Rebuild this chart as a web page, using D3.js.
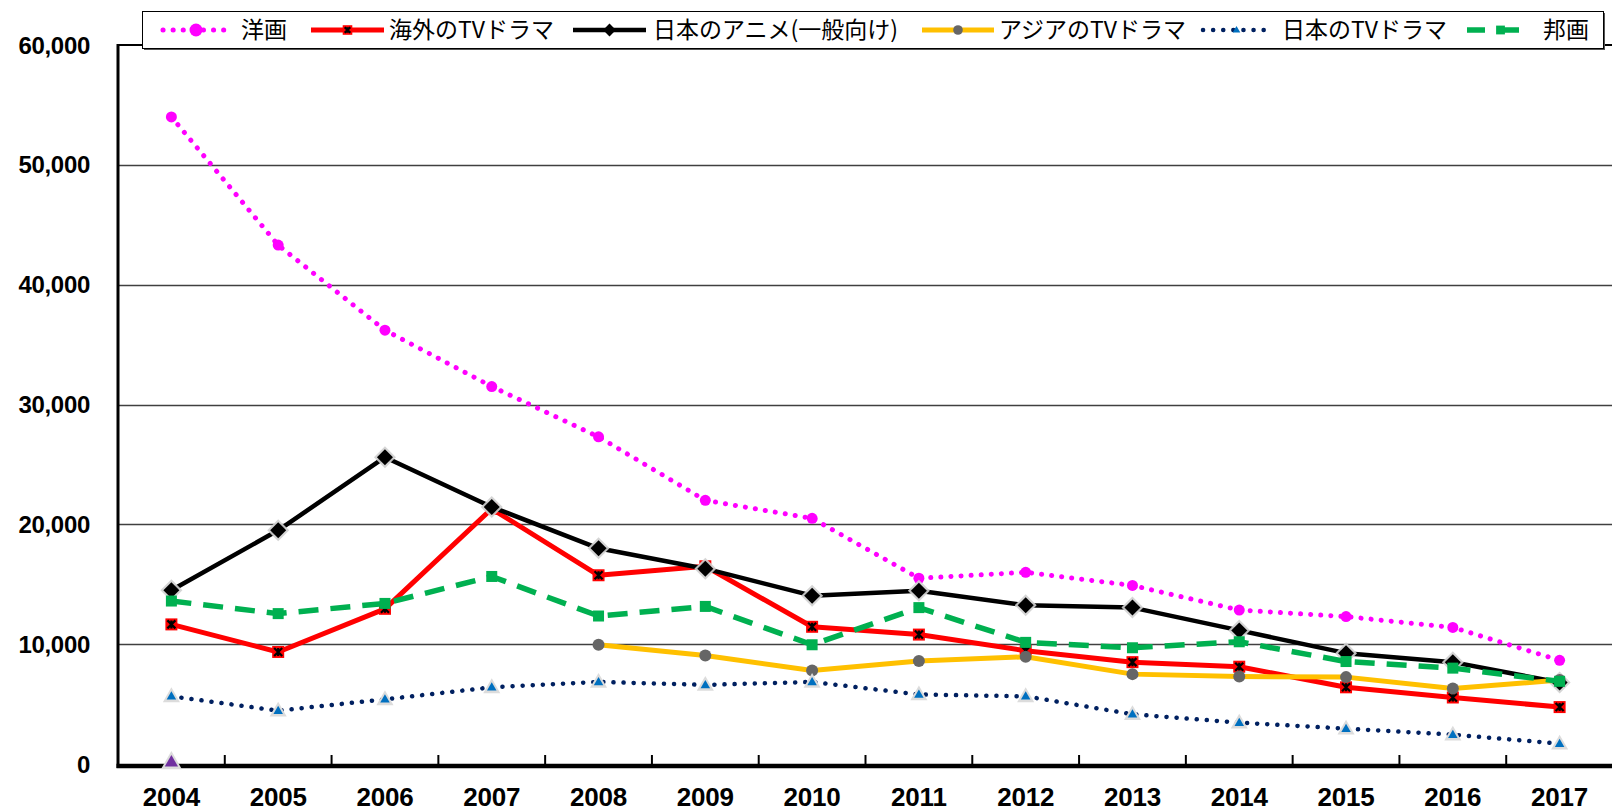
<!DOCTYPE html>
<html>
<head>
<meta charset="utf-8">
<script src="https://cdn.jsdelivr.net/npm/d3@7"></script>
<style>
  html, body { margin: 0; padding: 0; background: #fff; }
  svg { display: block; }
</style>
</head>
<body>
<div id="chart"></div>
<script>
// data
var years = ["2004","2005","2006","2007","2008","2009","2010","2011","2012","2013","2014","2015","2016","2017"];
var yTicks = [0, 10000, 20000, 30000, 40000, 50000, 60000];

var seriesNames = ["洋画", "海外のTVドラマ", "日本のアニメ(一般向け)", "アジアのTVドラマ", "日本のTVドラマ", "邦画"];

var yoga      = [54000, 43300, 36200, 31500, 27300, 22000, 20500, 15500, 16000, 14900, 12850, 12300, 11400, 8650];
var kaigaiTV  = [11650, 9350, 12950, 21300, 15750, 16500, 11450, 10800, 9450, 8500, 8120, 6400, 5550, 4750];
var anime     = [14500, 19500, 25600, 21450, 18000, 16300, 14050, 14450, 13250, 13050, 11150, 9250, 8500, 6800];
var asiaTV    = [null, null, null, null, 9950, 9050, 7800, 8600, 8950, 7500, 7300, 7250, 6300, 7000];
var nihonTV   = [5650, 4450, 5400, 6400, 6850, 6600, 6850, 5800, 5650, 4150, 3450, 2950, 2450, 1700];
var hoga      = [13600, 12550, 13400, 15650, 12350, 13150, 9950, 13050, 10150, 9700, 10200, 8550, 8000, 6900];
// stray marker sitting on the axis at 2004
var strayPoint = [0];

var width = 1612,
	height = 811;

// note: "top" is reserved on window, so use a margin object
var m = { left: 118, right: 1613, top: 45, bottom: 764 };

var svg = d3.select("#chart").append("svg")
	.attr("width", width)
	.attr("height", height);

var x = d3.scaleBand().domain(years).range([m.left, m.right]);
var y = d3.scaleLinear().domain([0, 60000]).range([m.bottom, m.top]);
var cx = function(i){ return x(years[i]) + x.bandwidth() / 2; };

// grid lines
svg.append("g").selectAll("line")
	.data(yTicks.filter(function(t){ return t > 0 && t < 60000; }))
	.enter().append("line")
	.attr("x1", m.left).attr("x2", width)
	.attr("y1", function(d){ return Math.round(y(d)) + 0.5; })
	.attr("y2", function(d){ return Math.round(y(d)) + 0.5; })
	.attr("stroke", "#404040")
	.attr("stroke-width", 1.3);

// top border of plot area
svg.append("line")
	.attr("x1", m.left).attr("x2", width)
	.attr("y1", y(60000)).attr("y2", y(60000))
	.attr("stroke", "#000").attr("stroke-width", 2);

// y axis labels
svg.append("g").selectAll("text")
	.data(yTicks)
	.enter().append("text")
	.attr("x", 90)
	.attr("y", function(d){ return y(d); })
	.attr("dy", "0.36em")
	.attr("text-anchor", "end")
	.attr("font-family", "'Liberation Sans', Arial, sans-serif")
	.attr("font-weight", "bold")
	.attr("font-size", 24)
	.attr("letter-spacing", -0.3)
	.text(function(d){ return d3.format(",")(d); });

// x axis labels
svg.append("g").selectAll("text")
	.data(years)
	.enter().append("text")
	.attr("x", function(d){ return x(d) + x.bandwidth() / 2; })
	.attr("y", 806)
	.attr("text-anchor", "middle")
	.attr("font-family", "'Liberation Sans', Arial, sans-serif")
	.attr("font-weight", "bold")
	.attr("font-size", 26)
	.attr("letter-spacing", -0.2)
	.text(function(d){ return d; });

// x tick marks (inside) at category boundaries
svg.append("g").selectAll("line")
	.data(years.slice(1))
	.enter().append("line")
	.attr("x1", function(d){ return x(d); })
	.attr("x2", function(d){ return x(d); })
	.attr("y1", m.bottom - 9).attr("y2", m.bottom)
	.attr("stroke", "#000").attr("stroke-width", 2);

// axes
svg.append("line")
	.attr("x1", m.left).attr("x2", m.left)
	.attr("y1", m.top - 1).attr("y2", m.bottom + 4)
	.attr("stroke", "#000").attr("stroke-width", 3);
svg.append("line")
	.attr("x1", m.left - 1.5).attr("x2", width)
	.attr("y1", m.bottom + 2).attr("y2", m.bottom + 2)
	.attr("stroke", "#000").attr("stroke-width", 4.5);

// line styles
var styles = [
	{ values: yoga, color: "#FF00FF", width: 5, dash: "0.1 10", cap: "round", marker: "circle" },
	{ values: kaigaiTV, color: "#FF0000", width: 5, dash: null, cap: "butt", marker: "xsquare" },
	{ values: anime, color: "#000000", width: 4.5, dash: null, cap: "butt", marker: "diamond" },
	{ values: asiaTV, color: "#FFC000", width: 5, dash: null, cap: "butt", marker: "grey" },
	{ values: nihonTV, color: "#002060", width: 4.5, dash: "0.1 10", cap: "round", marker: "triangle" },
	{ values: hoga, color: "#00B050", width: 5.5, dash: "20 12", cap: "butt", marker: "square" }
];

var lineGen = d3.line()
	.defined(function(d){ return d != null; })
	.x(function(d, i){ return cx(i); })
	.y(function(d){ return y(d); });

function drawMarker(g, type, px, py, small){
	var k = small ? 0.8 : 1;
	if (type == "circle"){
		g.append("circle").attr("cx", px).attr("cy", py).attr("r", 5.5 * k).attr("fill", "#FF00FF");
	}
	else if (type == "xsquare"){
		var s = 6 * k;
		g.append("rect").attr("x", px - s).attr("y", py - s).attr("width", 2 * s).attr("height", 2 * s)
			.attr("fill", "#FF0000");
		var a = s - 2;
		g.append("path")
			.attr("d", "M" + (px - a) + "," + (py - a) + "L" + (px + a) + "," + (py + a) +
				"M" + (px + a) + "," + (py - a) + "L" + (px - a) + "," + (py + a) +
				"M" + px + "," + (py - a) + "L" + px + "," + (py + a))
			.attr("stroke", "#000").attr("stroke-width", 2.2);
	}
	else if (type == "diamond"){
		var d = 8 * k;
		var dm = function(r){ return "M" + px + "," + (py - r) + "L" + (px + r) + "," + py + "L" + px + "," + (py + r) + "L" + (px - r) + "," + py + "Z"; };
		if (!small) g.append("path").attr("d", dm(d + 3)).attr("fill", "#d0d0d0").attr("opacity", 0.9);
		g.append("path").attr("d", dm(d)).attr("fill", "#000");
	}
	else if (type == "grey"){
		g.append("circle").attr("cx", px).attr("cy", py).attr("r", 6 * k).attr("fill", "#666666");
	}
	else if (type == "triangle"){
		var tri = function(r){ return "M" + px + "," + (py - r) + "L" + (px + r * 0.95) + "," + (py + r * 0.65) + "L" + (px - r * 0.95) + "," + (py + r * 0.65) + "Z"; };
		if (!small) g.append("path").attr("d", tri(9)).attr("fill", "#dcdcdc");
		g.append("path").attr("d", tri(5 * k)).attr("fill", "#0070C0");
	}
	else if (type == "square"){
		var q = 5.5 * k;
		g.append("rect").attr("x", px - q).attr("y", py - q).attr("width", 2 * q).attr("height", 2 * q)
			.attr("fill", "#00B050");
	}
	else if (type == "purple"){
		var tp = function(r){ return "M" + px + "," + (py - r) + "L" + (px + r * 0.95) + "," + (py + r * 0.65) + "L" + (px - r * 0.95) + "," + (py + r * 0.65) + "Z"; };
		g.append("path").attr("d", tp(11)).attr("fill", "#dcdcdc");
		g.append("path").attr("d", tp(7)).attr("fill", "#7030A0");
	}
}

var seriesGroup = svg.append("g").attr("class", "series");

styles.forEach(function(s){
	var g = seriesGroup.append("g");
	g.append("path")
		.datum(s.values)
		.attr("d", lineGen)
		.attr("fill", "none")
		.attr("stroke", s.color)
		.attr("stroke-width", s.width)
		.attr("stroke-linejoin", "round")
		.attr("stroke-linecap", s.cap)
		.attr("stroke-dasharray", s.dash);
	s.values.forEach(function(v, i){
		if (v == null) return;
		drawMarker(g, s.marker, cx(i), y(v), false);
	});
});

// stray purple triangle on the axis
strayPoint.forEach(function(v, i){
	drawMarker(seriesGroup, "purple", cx(i), y(v) - 2, false);
});

// legend
var legendX = [ [163, 229, 241], [311, 384, 389], [573, 646, 653], [922, 994, 999], [1203, 1270, 1282], [1467, 1522, 1543] ];
var legend = svg.append("g").attr("class", "legend");
legend.append("rect")
	.attr("x", 144).attr("y", 13).attr("width", 1461).attr("height", 37)
	.attr("fill", "#555");
legend.append("rect")
	.attr("x", 142.5).attr("y", 11.5).attr("width", 1461).attr("height", 37)
	.attr("fill", "#fff").attr("stroke", "#000").attr("stroke-width", 1);

var ly = 30;
styles.forEach(function(s, i){
	var p = legendX[i];
	var g = legend.append("g");
	g.append("line")
		.attr("x1", p[0]).attr("x2", p[1])
		.attr("y1", ly).attr("y2", ly)
		.attr("stroke", s.color)
		.attr("stroke-width", s.width)
		.attr("stroke-linecap", s.cap)
		.attr("stroke-dasharray", s.marker == "square" ? "18 16" : s.dash);
	if (s.marker == "circle"){
		g.append("circle").attr("cx", (p[0] + p[1]) / 2).attr("cy", ly).attr("r", 6.5).attr("fill", "#FF00FF");
	} else {
		drawMarker(g, s.marker, (p[0] + p[1]) / 2 + (s.marker == "square" ? 6 : 0), ly, true);
	}
	g.append("text")
		.attr("x", p[2])
		.attr("y", ly)
		.attr("dy", "0.36em")
		.attr("font-family", "'Noto Sans CJK JP', sans-serif")
		.attr("font-size", 23)
		.attr("fill", "#000")
		.text(seriesNames[i]);
});
</script>
</body>
</html>
